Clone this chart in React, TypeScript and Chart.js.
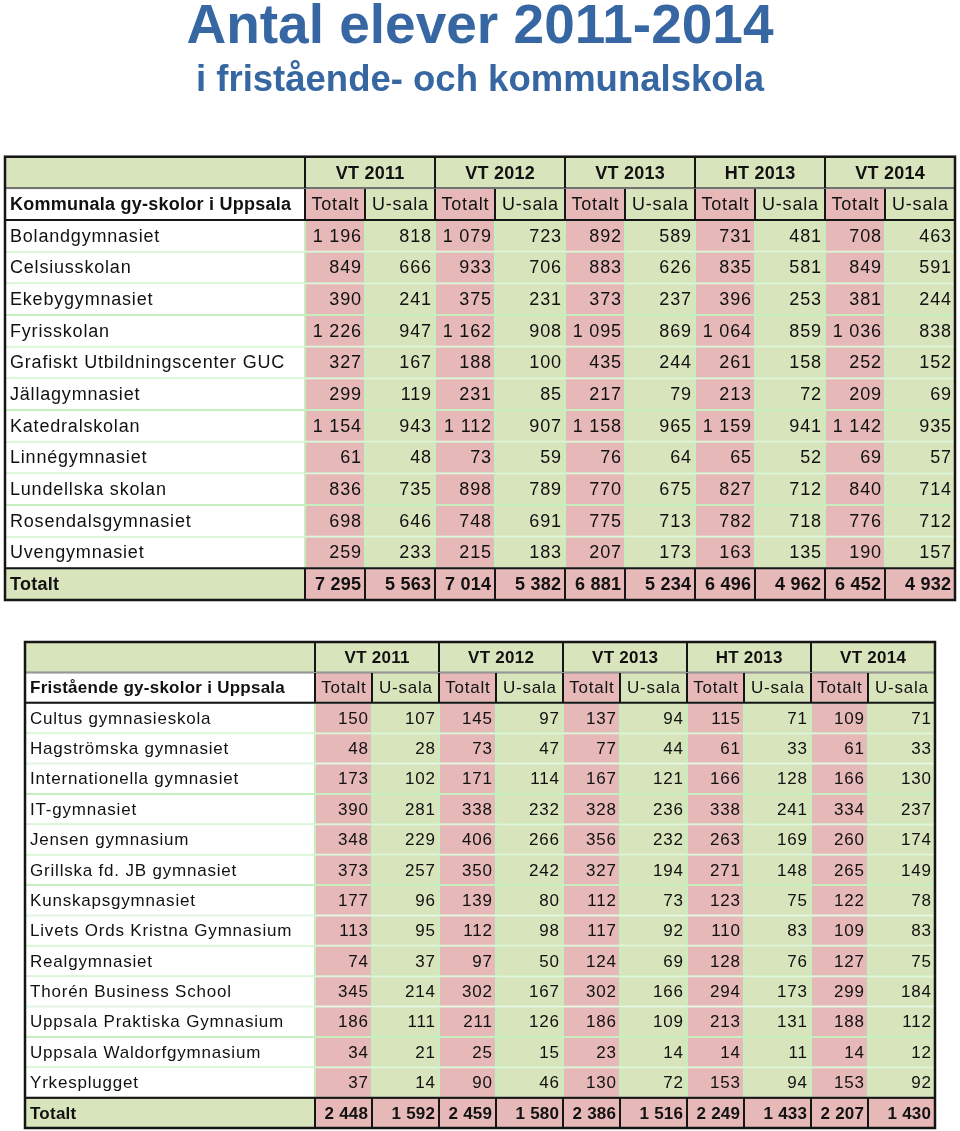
import React, { useEffect, useRef } from 'react';
import { Chart, registerables } from 'chart.js';

Chart.register(...registerables);

// ---------- DATA ----------
const mainTitle = 'Antal elever 2011-2014';
const subTitle = 'i fristående- och kommunalskola';
const periods = ['VT 2011', 'VT 2012', 'VT 2013', 'HT 2013', 'VT 2014'];
const subHeaders = ['Totalt', 'U-sala'];
const totalLabel = 'Totalt';

// Table 1: kommunala
const kommunalaHeading = 'Kommunala gy-skolor i Uppsala';
const kommunalaSchools = [
  'Bolandgymnasiet', 'Celsiusskolan', 'Ekebygymnasiet', 'Fyrisskolan',
  'Grafiskt Utbildningscenter GUC', 'Jällagymnasiet', 'Katedralskolan',
  'Linnégymnasiet', 'Lundellska skolan', 'Rosendalsgymnasiet', 'Uvengymnasiet',
];
const komVT2011Totalt = [1196, 849, 390, 1226, 327, 299, 1154, 61, 836, 698, 259];
const komVT2011Usala = [818, 666, 241, 947, 167, 119, 943, 48, 735, 646, 233];
const komVT2012Totalt = [1079, 933, 375, 1162, 188, 231, 1112, 73, 898, 748, 215];
const komVT2012Usala = [723, 706, 231, 908, 100, 85, 907, 59, 789, 691, 183];
const komVT2013Totalt = [892, 883, 373, 1095, 435, 217, 1158, 76, 770, 775, 207];
const komVT2013Usala = [589, 626, 237, 869, 244, 79, 965, 64, 675, 713, 173];
const komHT2013Totalt = [731, 835, 396, 1064, 261, 213, 1159, 65, 827, 782, 163];
const komHT2013Usala = [481, 581, 253, 859, 158, 72, 941, 52, 712, 718, 135];
const komVT2014Totalt = [708, 849, 381, 1036, 252, 209, 1142, 69, 840, 776, 190];
const komVT2014Usala = [463, 591, 244, 838, 152, 69, 935, 57, 714, 712, 157];
const kommunalaTotals = [7295, 5563, 7014, 5382, 6881, 5234, 6496, 4962, 6452, 4932];

// Table 2: fristående
const friHeading = 'Fristående gy-skolor i Uppsala';
const friSchools = [
  'Cultus gymnasieskola', 'Hagströmska gymnasiet', 'Internationella gymnasiet',
  'IT-gymnasiet', 'Jensen gymnasium', 'Grillska fd. JB gymnasiet',
  'Kunskapsgymnasiet', 'Livets Ords Kristna Gymnasium', 'Realgymnasiet',
  'Thorén Business School', 'Uppsala Praktiska Gymnasium',
  'Uppsala Waldorfgymnasium', 'Yrkesplugget',
];
const friVT2011Totalt = [150, 48, 173, 390, 348, 373, 177, 113, 74, 345, 186, 34, 37];
const friVT2011Usala = [107, 28, 102, 281, 229, 257, 96, 95, 37, 214, 111, 21, 14];
const friVT2012Totalt = [145, 73, 171, 338, 406, 350, 139, 112, 97, 302, 211, 25, 90];
const friVT2012Usala = [97, 47, 114, 232, 266, 242, 80, 98, 50, 167, 126, 15, 46];
const friVT2013Totalt = [137, 77, 167, 328, 356, 327, 112, 117, 124, 302, 186, 23, 130];
const friVT2013Usala = [94, 44, 121, 236, 232, 194, 73, 92, 69, 166, 109, 14, 72];
const friHT2013Totalt = [115, 61, 166, 338, 263, 271, 123, 110, 128, 294, 213, 14, 153];
const friHT2013Usala = [71, 33, 128, 241, 169, 148, 75, 83, 76, 173, 131, 11, 94];
const friVT2014Totalt = [109, 61, 166, 334, 260, 265, 122, 109, 127, 299, 188, 14, 153];
const friVT2014Usala = [71, 33, 130, 237, 174, 149, 78, 83, 75, 184, 112, 12, 92];
const friTotals = [2448, 1592, 2459, 1580, 2386, 1516, 2249, 1433, 2207, 1430];

// ---------- STYLE ----------
const FONT = "'Liberation Sans', Arial, Helvetica, sans-serif";
const PINK = '#e6b9b8';
const GREEN = '#d8e4bc';
const GRID = '#c6efc0';
const BLACK = '#151515';
const TEXT = '#111111';
const TITLE_BLUE = '#3767a2';

function fmt(v: number): string {
  return String(v).replace(/\B(?=(\d{3})+(?!\d))/g, ' ');
}

type Spec = {
  heading: string;
  schools: string[];
  columns: number[][];
  totals: number[];
  labelW: number;
  totW: number;
  usW: number;
  fontSize: number;
};

function buildConfig(spec: Spec, layoutPadding: any, withTitle: boolean): any {
  const { labelW, totW, usW, fontSize } = spec;
  const pairW = totW + usW;
  const W = labelW + pairW * periods.length;
  const rowLabels = ['', spec.heading, ...spec.schools, totalLabel];
  const lastRow = rowLabels.length - 1;
  const edges: number[] = [0, labelW];
  periods.forEach((_, p) => {
    edges.push(labelW + p * pairW + totW);
    edges.push(labelW + (p + 1) * pairW);
  });
  const isBlackRow = (r: number) => r <= 1 || r === lastRow;

  const datasets: any[] = [];
  datasets.push({
    label: 'label',
    data: rowLabels.map(() => [0, labelW]),
    backgroundColor: rowLabels.map((_, r) => (r === 0 || r === lastRow ? GREEN : '#ffffff')),
    borderColor: rowLabels.map((_, r) => (isBlackRow(r) ? BLACK : GRID)),
  });
  for (let c = 0; c < periods.length * 2; c++) {
    const isTot = c % 2 === 0;
    const x0 = edges[1 + c];
    const x1 = edges[2 + c];
    datasets.push({
      label: 'col' + c,
      data: rowLabels.map((_, r) => (r === 0 ? (isTot ? [x0, x0 + pairW] : null) : [x0, x1])),
      backgroundColor: rowLabels.map((_, r) =>
        r === 0 ? GREEN : r === lastRow ? PINK : isTot ? PINK : GREEN
      ),
      borderColor: rowLabels.map((_, r) => (isBlackRow(r) ? BLACK : GRID)),
    });
  }

  const textPlugin = {
    id: 'tableText',
    afterDatasetsDraw(chart: any) {
      const { ctx, scales } = chart;
      const x = scales.x;
      const y = scales.y;
      const band = y.getPixelForValue(1) - y.getPixelForValue(0);
      const left = x.getPixelForValue(0);
      const right = x.getPixelForValue(W);
      const top = y.getPixelForValue(0) - band / 2;
      const bottom = y.getPixelForValue(lastRow) + band / 2;
      ctx.save();
      ctx.strokeStyle = BLACK;
      ctx.lineWidth = 2;
      [2, lastRow].forEach((r) => {
        const yy = y.getPixelForValue(r) - band / 2;
        ctx.beginPath();
        ctx.moveTo(left, yy);
        ctx.lineTo(right, yy);
        ctx.stroke();
      });
      ctx.lineWidth = 2.5;
      ctx.strokeRect(left, top, right - left, bottom - top);

      ctx.fillStyle = TEXT;
      ctx.textBaseline = 'middle';
      const put = (t: string, px: number, py: number, align: string, bold: boolean) => {
        const ls = bold ? 0.25 : 0.8;
        ctx.font = (bold ? 'bold ' : '') + fontSize + 'px ' + FONT;
        (ctx as any).letterSpacing = ls + 'px';
        ctx.textAlign = align;
        let xx = px;
        if (align === 'right') xx = px + ls;
        if (align === 'center') xx = px + ls / 2;
        ctx.fillText(t, xx, py + 1);
      };
      periods.forEach((p, i) => {
        const cx = x.getPixelForValue(labelW + i * pairW + pairW / 2);
        put(p, cx, y.getPixelForValue(0), 'center', true);
      });
      put(spec.heading, left + 5, y.getPixelForValue(1), 'left', true);
      for (let c = 0; c < periods.length * 2; c++) {
        const cx = (x.getPixelForValue(edges[1 + c]) + x.getPixelForValue(edges[2 + c])) / 2;
        put(subHeaders[c % 2], cx, y.getPixelForValue(1), 'center', false);
      }
      spec.schools.forEach((s, i) => {
        const r = i + 2;
        const py = y.getPixelForValue(r);
        put(s, left + 5, py, 'left', false);
        spec.columns.forEach((col, c) => {
          put(fmt(col[i]), x.getPixelForValue(edges[2 + c]) - 4, py, 'right', false);
        });
      });
      const py = y.getPixelForValue(lastRow);
      put(totalLabel, left + 5, py, 'left', true);
      spec.totals.forEach((v, c) => {
        put(fmt(v), x.getPixelForValue(edges[2 + c]) - 4, py, 'right', true);
      });
      ctx.restore();
    },
  };

  return {
    type: 'bar',
    data: { labels: rowLabels, datasets },
    options: {
      indexAxis: 'y',
      responsive: false,
      animation: false,
      devicePixelRatio: 1,
      events: [],
      layout: { padding: layoutPadding },
      datasets: {
        bar: {
          grouped: false,
          categoryPercentage: 1,
          barPercentage: 1,
          borderWidth: 1,
          borderSkipped: false,
          inflateAmount: 0,
        },
      },
      scales: {
        x: { type: 'linear', min: 0, max: W, display: false },
        y: { type: 'category', display: false, offset: true },
      },
      plugins: {
        legend: { display: false },
        tooltip: { enabled: false },
        title: {
          display: withTitle,
          text: mainTitle,
          color: TITLE_BLUE,
          font: { family: FONT, size: 55, weight: 'bold', lineHeight: 0.84 },
          padding: { top: 5, bottom: 11 },
        },
        subtitle: {
          display: withTitle,
          text: subTitle,
          color: TITLE_BLUE,
          font: { family: FONT, size: 36.5, weight: 'bold', lineHeight: 1 },
          padding: { top: 0, bottom: 58 },
        },
      },
    },
    plugins: [textPlugin],
  };
}

const kommunalaSpec: Spec = {
  heading: kommunalaHeading,
  schools: kommunalaSchools,
  columns: [
    komVT2011Totalt, komVT2011Usala, komVT2012Totalt, komVT2012Usala,
    komVT2013Totalt, komVT2013Usala, komHT2013Totalt, komHT2013Usala,
    komVT2014Totalt, komVT2014Usala,
  ],
  totals: kommunalaTotals,
  labelW: 300,
  totW: 60,
  usW: 70,
  fontSize: 18,
};

const friSpec: Spec = {
  heading: friHeading,
  schools: friSchools,
  columns: [
    friVT2011Totalt, friVT2011Usala, friVT2012Totalt, friVT2012Usala,
    friVT2013Totalt, friVT2013Usala, friHT2013Totalt, friHT2013Usala,
    friVT2014Totalt, friVT2014Usala,
  ],
  totals: friTotals,
  labelW: 290,
  totW: 57,
  usW: 67,
  fontSize: 17,
};

function TableChart(props: { spec: Spec; top: number; height: number; padding: any; withTitle: boolean }) {
  const ref = useRef<HTMLCanvasElement | null>(null);
  useEffect(() => {
    if (!ref.current) return;
    const chart = new Chart(ref.current, buildConfig(props.spec, props.padding, props.withTitle));
    return () => chart.destroy();
  }, []);
  return (
    <canvas
      ref={ref}
      width={960}
      height={props.height}
      style={{ position: 'absolute', left: 0, top: props.top, width: 960, height: props.height }}
    />
  );
}

export default function App() {
  return (
    <div style={{ position: 'absolute', left: 0, top: 0, width: 960, height: 1131, background: '#ffffff', overflow: 'hidden' }}>
      <TableChart
        spec={kommunalaSpec}
        top={0}
        height={606}
        padding={{ top: 0, left: 5, right: 5, bottom: 6 }}
        withTitle={true}
      />
      <TableChart
        spec={friSpec}
        top={630}
        height={501}
        padding={{ top: 12, left: 25, right: 25, bottom: 3 }}
        withTitle={false}
      />
    </div>
  );
}
